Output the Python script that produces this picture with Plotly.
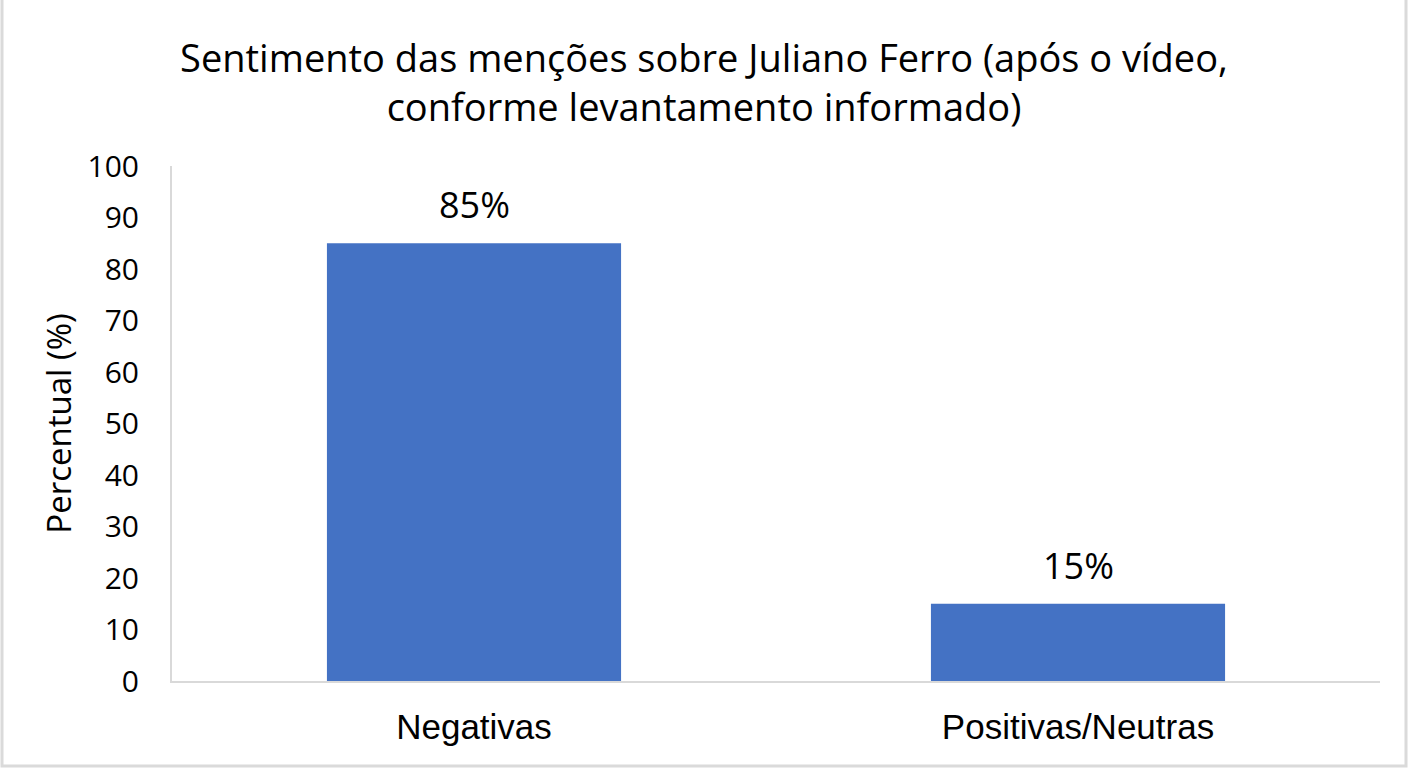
import plotly.graph_objects as go

categories = ["Negativas", "Positivas/Neutras"]
values = [85, 15]
labels = ["85%", "15%"]
y_ticks = [0, 10, 20, 30, 40, 50, 60, 70, 80, 90, 100]

title_text = "Sentimento das menções sobre Juliano Ferro (após o vídeo,<br>conforme levantamento informado)"

# plot area in pixels
L, R, T, B = 172, 1380, 166, 681
W, H = 1408, 768
pw, ph = R - L, B - T

fig = go.Figure()
fig.add_trace(go.Bar(
    x=categories, y=values,
    marker=dict(color="#4472C4", line=dict(width=0)),
    width=0.487,
    hoverinfo="skip",
))

for c, v, t in zip(categories, values, labels):
    fig.add_annotation(x=c, y=v, text=t, showarrow=False, yanchor="bottom", yshift=12,
                       font=dict(family="Open Sans", size=36, color="#000000"))

fig.update_layout(
    width=W, height=H,
    margin=dict(l=L, r=W - R, t=T, b=H - B),
    paper_bgcolor="white", plot_bgcolor="white",
    showlegend=False,
    title=dict(text=title_text, x=0.5, xanchor="center", y=1 - 72 / H, yanchor="middle",
               font=dict(family="Open Sans", size=38, color="#000000")),
    xaxis=dict(showgrid=False, showline=True, linecolor="#D9D9D9", linewidth=2,
               ticks="", tickfont=dict(family="Liberation Sans", size=35, color="#000000"),
               ticklabelstandoff=14),
    yaxis=dict(range=[0, 100], tickvals=y_ticks, showgrid=False, showline=True,
               linecolor="#D9D9D9", linewidth=2, ticks="", zeroline=False,
               tickfont=dict(family="Open Sans", size=30, color="#000000"),
               ticklabelstandoff=25,
               title=dict(text="Percentual (%)", standoff=6,
                          font=dict(family="Open Sans", size=33, color="#000000"))),
    shapes=[dict(type="rect", xref="paper", yref="paper",
                 x0=(2 - L) / pw, x1=(1406 - L) / pw,
                 y0=(B - 766) / ph, y1=(B + 3) / ph,
                 line=dict(color="#DADADA", width=3))],
)

fig.write_html("out.html", config={"displayModeBar": False},
               post_script="document.body.style.margin='0';document.body.style.overflow='hidden';")
